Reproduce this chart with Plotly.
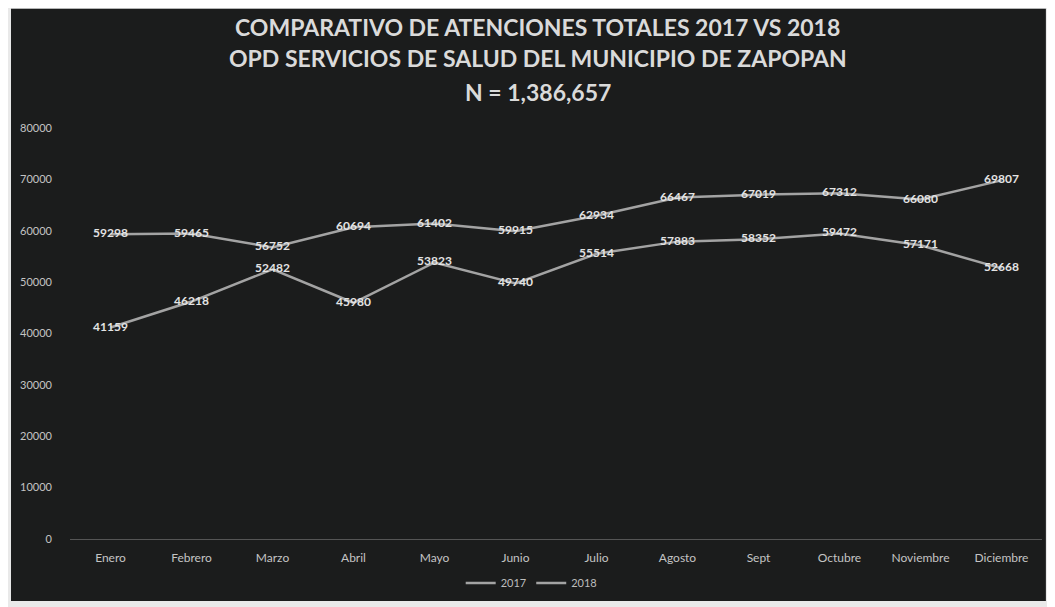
import plotly.graph_objects as go

months = ["Enero", "Febrero", "Marzo", "Abril", "Mayo", "Junio", "Julio",
          "Agosto", "Sept", "Octubre", "Noviembre", "Diciembre"]
values_2017 = [41159, 46218, 52482, 45980, 53823, 49740, 55514, 57883, 58352, 59472, 57171, 52668]
values_2018 = [59298, 59465, 56752, 60694, 61402, 59915, 62934, 66467, 67019, 67312, 66080, 69807]
y_ticks = [0, 10000, 20000, 30000, 40000, 50000, 60000, 70000, 80000]

title_lines = ["COMPARATIVO DE ATENCIONES TOTALES 2017 VS 2018",
               "OPD SERVICIOS DE SALUD DEL MUNICIPIO DE ZAPOPAN",
               "N = 1,386,657"]
title_y = [1.246, 1.171, 1.088]

font_fam = "Lato, 'Liberation Sans Narrow', sans-serif"
line_col = "#a3a3a3"
label_col = "#e3e3e3"

fig = go.Figure()
for name, vals in [("2017", values_2017), ("2018", values_2018)]:
    fig.add_trace(go.Scatter(
        x=months, y=vals, name=name, mode="lines+text",
        line=dict(color=line_col, width=2.5),
        text=[str(v) for v in vals], textposition="middle center",
        textfont=dict(color=label_col, size=12, family=font_fam, weight="bold"),
        cliponaxis=False,
    ))

annotations = [dict(text=t, xref="paper", yref="paper", x=0.481, y=yy,
                    xanchor="center", yanchor="middle", showarrow=False,
                    font=dict(family=font_fam, size=23, color="#dadada", weight="bold"))
               for t, yy in zip(title_lines, title_y)]

fig.update_layout(
    width=1055, height=607,
    paper_bgcolor="#e9e9e9",
    plot_bgcolor="rgba(0,0,0,0)",
    margin=dict(l=62, r=21, t=120, b=76),
    annotations=annotations,
    showlegend=True,
    legend=dict(orientation="h", x=0.475, xanchor="center", y=-0.107, yanchor="middle",
                font=dict(family=font_fam, size=11, color="#bdbdbd"), bgcolor="rgba(0,0,0,0)"),
    xaxis=dict(type="category", range=[-0.5, 11.5], showgrid=False, showline=False, zeroline=False,
               tickfont=dict(family=font_fam, size=12, color="#c4c4c4"), ticks="",
               ticklabelstandoff=10),
    yaxis=dict(range=[0, 80000], tickvals=y_ticks, ticktext=[str(v) for v in y_ticks],
               showgrid=False, zeroline=True,
               zerolinecolor="#555555", zerolinewidth=1, showline=False,
               tickfont=dict(family=font_fam, size=11, color="#c4c4c4"), ticks="",
               ticklabelstandoff=17),
    shapes=[dict(type="rect", xref="paper", yref="paper", x0=-0.0607, x1=1.004, y0=-0.151, y1=1.29,
                 fillcolor="#1b1c1c", line=dict(width=0), layer="below")],
)

fig.write_html("out.html")
